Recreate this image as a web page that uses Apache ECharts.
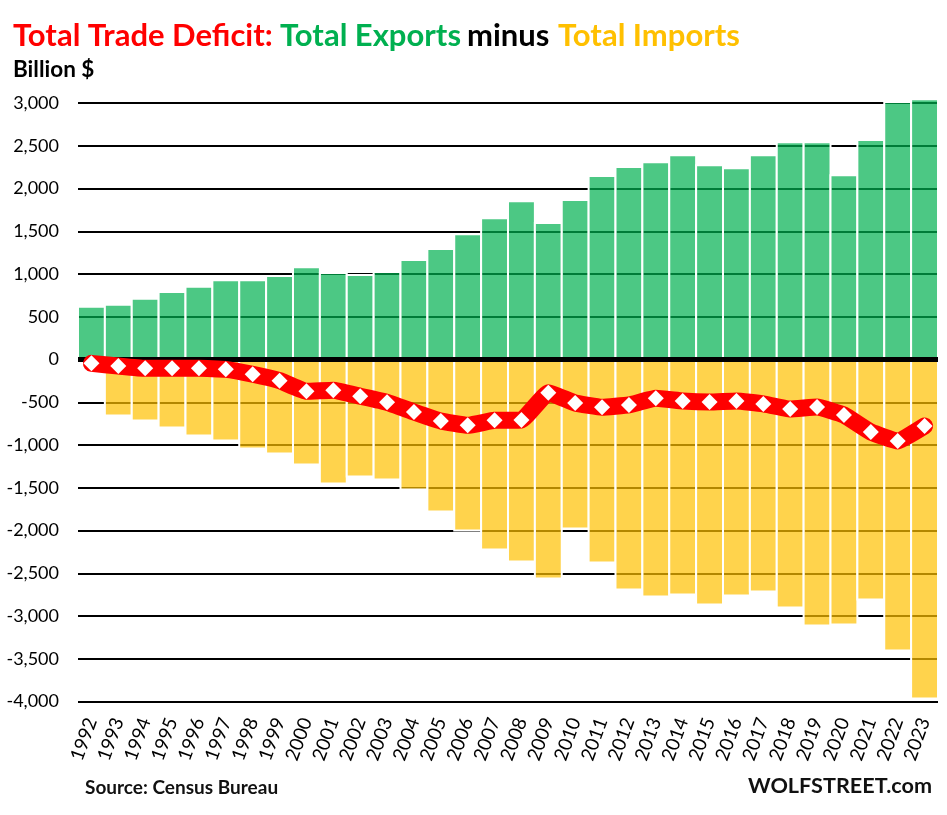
<!DOCTYPE html>
<html>
<head>
<meta charset="utf-8">
<script src="https://cdn.jsdelivr.net/npm/echarts@6/dist/echarts.min.js"></script>
<style>
  html, body { margin: 0; padding: 0; background: #fff; }
  #chart { width: 947px; height: 815px; }
</style>
</head>
<body>
<div id="chart"></div>
<script>
const years = ['1992','1993','1994','1995','1996','1997','1998','1999','2000','2001','2002','2003','2004','2005','2006','2007','2008','2009','2010','2011','2012','2013','2014','2015','2016','2017','2018','2019','2020','2021','2022','2023'];
const exportsTotal = [628,651,722,800,862,940,940,987,1092,1022,999,1034,1174,1303,1478,1665,1864,1607,1876,2157,2262,2320,2402,2285,2250,2402,2554,2554,2168,2578,3022,3057];
// no imports bar is drawn for 1992
const importsTotal = [null,-668,-726,-808,-901,-960,-1053,-1112,-1241,-1463,-1381,-1416,-1533,-1790,-2013,-2235,-2375,-2574,-1989,-2387,-2703,-2785,-2761,-2878,-2773,-2726,-2913,-3124,-3112,-2820,-3416,-3978];
const tradeDeficit = [-45,-76,-103,-103,-103,-115,-173,-248,-372,-360,-430,-501,-614,-719,-770,-711,-708,-388,-509,-559,-532,-454,-485,-497,-485,-520,-579,-556,-649,-848,-953,-778];

const font = 'Lato';
const chart = echarts.init(document.getElementById('chart'));

function label(text, pos, color, fontSize) {
  return Object.assign({
    text: text,
    padding: 0,
    textStyle: { color: color, fontSize: fontSize, fontWeight: 'bold', fontFamily: font }
  }, pos);
}

// bars lose 1px to the border on each side, so the width is set 2px over the category band
const barWidth = 28.9;

chart.setOption({
  animation: false,
  backgroundColor: '#fff',
  textStyle: { fontFamily: font },
  title: [
    label('Total Trade Deficit:', { left: 13, top: 20 }, '#ff0000', 31),
    label('Total Exports', { left: 280, top: 20 }, '#00b050', 31),
    label('minus', { left: 467, top: 20 }, '#000', 31),
    label('Total Imports', { left: 558, top: 20 }, '#ffc000', 31),
    label('Billion $', { left: 13, top: 58 }, '#000', 22.5),
    label('Source: Census Bureau', { left: 85, top: 778 }, '#111', 19),
    label('WOLFSTREET.com', { right: 15, top: 775 }, '#111', 21.6)
  ],
  grid: { left: 78, right: 9, top: 103, bottom: 113.5 },
  xAxis: {
    type: 'category',
    data: years,
    position: 'bottom',
    axisLine: { onZero: false, show: false },
    axisTick: { show: false },
    axisLabel: { interval: 0, rotate: 70, color: '#000', fontSize: 19, margin: 17, fontFamily: font }
  },
  yAxis: {
    type: 'value',
    min: -4000,
    max: 3000,
    interval: 500,
    axisLine: { show: false },
    axisTick: { show: false },
    axisLabel: {
      color: '#000', fontSize: 18, margin: 19, fontFamily: font,
      formatter: function (v) { return v.toLocaleString('en-US'); }
    },
    splitLine: { show: true, lineStyle: { color: '#000', width: 2 } }
  },
  series: [
    {
      name: 'Total Imports',
      type: 'bar',
      data: importsTotal,
      barWidth: barWidth,
      barGap: '-100%',
      clip: false,
      z: 2,
      itemStyle: { color: 'rgba(255,192,0,0.7)', borderColor: '#fff', borderWidth: 2 }
    },
    {
      name: 'Total Exports',
      type: 'bar',
      data: exportsTotal,
      barWidth: barWidth,
      barGap: '-100%',
      clip: false,
      z: 3,
      itemStyle: { color: 'rgba(0,176,80,0.7)', borderColor: '#fff', borderWidth: 2 },
      markLine: {
        silent: true,
        symbol: 'none',
        label: { show: false },
        lineStyle: { color: '#000', width: 5, type: 'solid' },
        data: [{ yAxis: 0 }]
      }
    },
    {
      name: 'Total Trade Deficit',
      type: 'line',
      data: tradeDeficit,
      z: 5,
      smooth: 0.1,
      symbol: 'diamond',
      symbolSize: 16,
      itemStyle: { color: '#fff' },
      lineStyle: { color: '#ff0000', width: 17, cap: 'round', join: 'round' }
    }
  ]
});
</script>
</body>
</html>
